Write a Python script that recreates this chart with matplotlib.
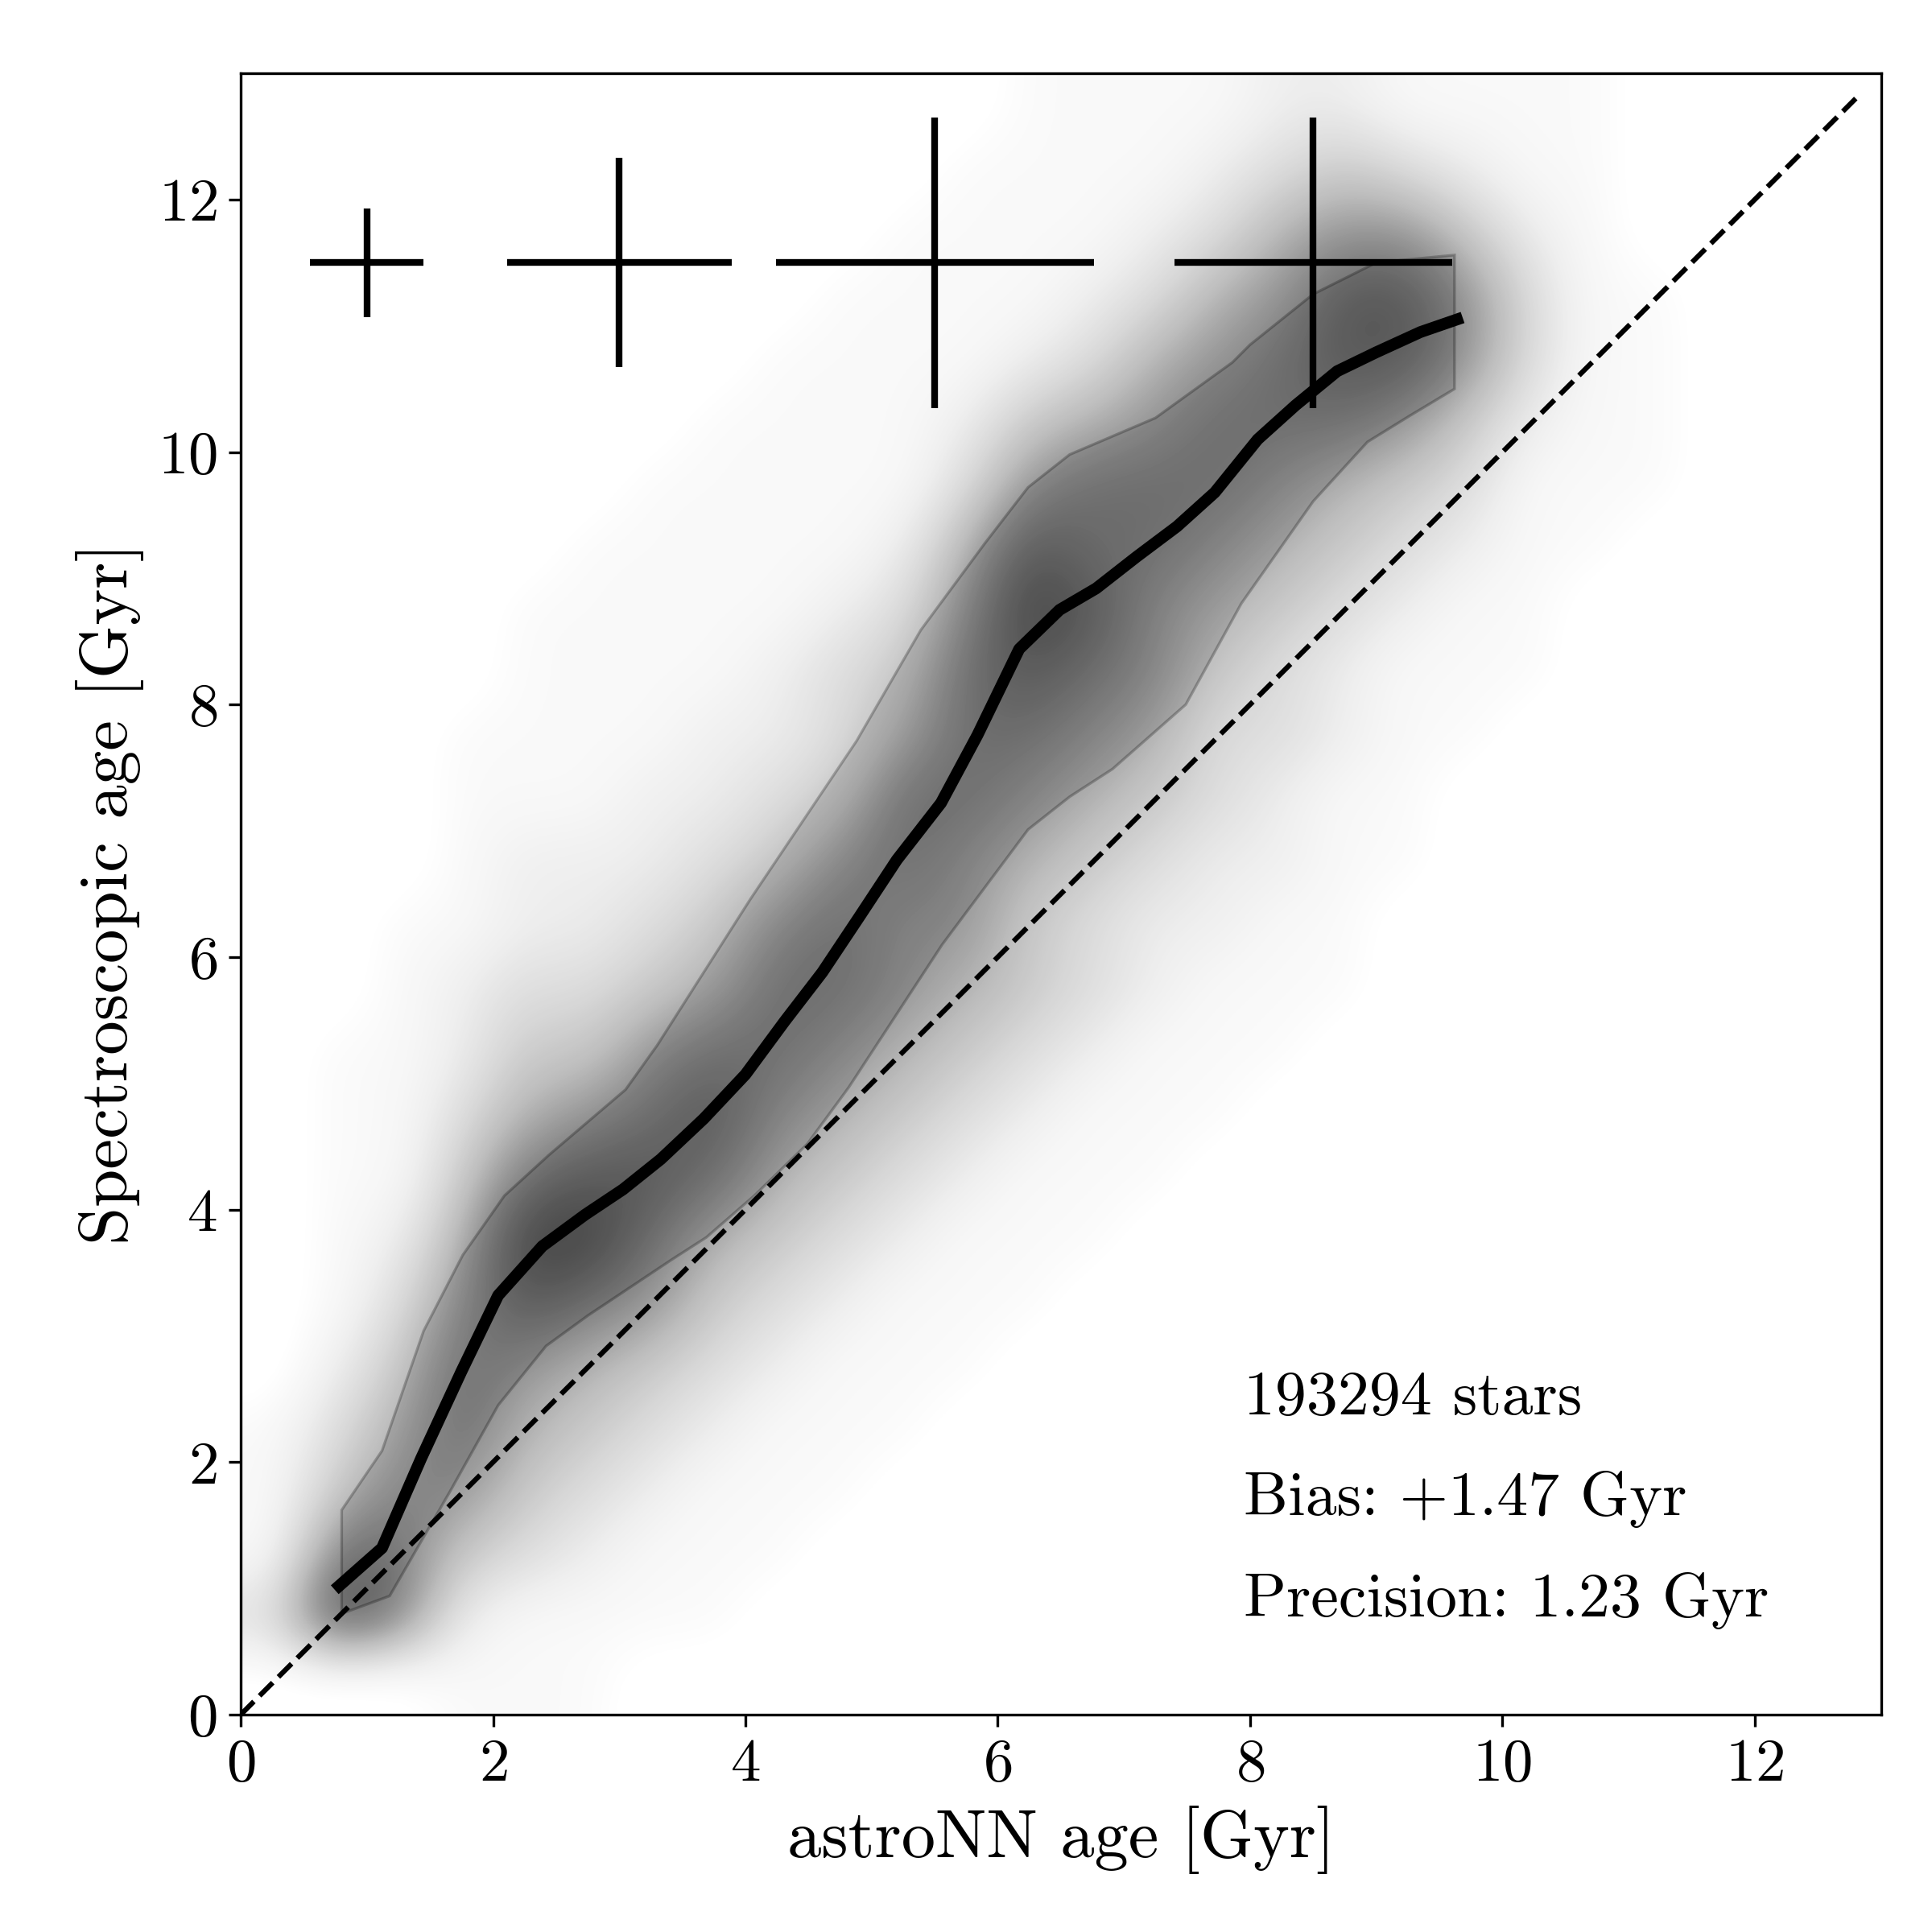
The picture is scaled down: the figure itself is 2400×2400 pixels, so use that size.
#!/usr/bin/env python3

import numpy as np
import matplotlib
matplotlib.use("Agg")
import matplotlib.pyplot as plt

plt.rcParams['font.family'] = 'serif'
plt.rcParams['font.serif'] = ['cmr10']
plt.rcParams['mathtext.fontset'] = 'cm'
plt.rcParams['axes.formatter.use_mathtext'] = True

# running median of spectroscopic age vs astroNN age
median_x = [0.78, 1.12, 1.43, 1.75, 2.04, 2.39, 2.73, 3.03, 3.33, 3.67, 4.00, 4.31, 4.61,
            4.91, 5.20, 5.55, 5.84, 6.17, 6.49, 6.78, 7.10, 7.42, 7.72, 8.06, 8.36, 8.69,
            9.00, 9.35, 9.64]
median_y = [1.02, 1.32, 2.03, 2.72, 3.32, 3.71, 3.96, 4.16, 4.40, 4.72, 5.07, 5.49, 5.88,
            6.33, 6.77, 7.22, 7.76, 8.44, 8.75, 8.92, 9.17, 9.41, 9.68, 10.10, 10.37, 10.64,
            10.79, 10.95, 11.05]

# 16th / 84th percentile band
upper_x = [0.80, 1.12, 1.45, 1.76, 2.09, 2.44, 3.05, 3.30, 4.04, 4.88, 5.39, 5.90, 6.24,
           6.57, 7.25, 7.86, 8.00, 8.50, 9.00, 9.62]
upper_y = [1.62, 2.09, 3.04, 3.64, 4.11, 4.43, 4.95, 5.30, 6.46, 7.71, 8.59, 9.28, 9.72,
           9.98, 10.27, 10.71, 10.85, 11.25, 11.50, 11.56]
lower_x = [0.80, 1.18, 1.66, 2.04, 2.42, 2.75, 3.41, 3.69, 4.07, 4.49, 4.82, 5.56, 6.24,
           6.57, 6.91, 7.49, 7.93, 8.50, 8.93, 9.27, 9.62]
lower_y = [0.80, 0.94, 1.77, 2.45, 2.92, 3.16, 3.60, 3.78, 4.11, 4.52, 4.97, 6.10, 7.01,
           7.27, 7.49, 8.00, 8.80, 9.61, 10.08, 10.29, 10.50]

# typical uncertainties
err_x = [1.0, 3.0, 5.5, 8.5]
err_y = [11.5, 11.5, 11.5, 11.5]
err_xerr = [0.45, 0.89, 1.26, 1.10]
err_yerr = [0.43, 0.83, 1.15, 1.15]

one_to_one = [0.0, 12.8]

n_stars = 193294
bias = 1.47
precision = 1.23

# star density (0-9) in 0.5 Gyr cells, one string per astroNN-age column
# (x = 0.25, 0.75, ...), characters run upward in spectroscopic age (y = 0.25, 0.75, ...)
density_cols = [
    "03111",
    "09743211111",
    "0776543211111",
    "1246776543221111",
    "113456897543221111",
    "1123457986432211111",
    "01123467876432211111",
    "011123457875432211111",
    "0011123456776432211111",
    "00011123456776433211111",
    "000011123456677543211111",
    "0000011123456677765321111",
    "00000011123445678986421111",
    "00000001112334567877532111",
    "00000000111223456677653211",
    "00000000011122334567765321",
    "00000000001112233456776532",
    "00000000000111122345788642",
    "00000000000001111234688631",
    "00000000000000011123466421",
    "00000000000000001111233211",
    "00000000000000000011111111",
    "00000000000000000001111",
    "0", "0", "0",
]

density = np.array([[int(c) for c in col.ljust(26, "0")[:26]] for col in density_cols]).T


def AgePlot():
    fig = plt.figure(figsize=(8, 8), dpi=300)
    ax = fig.add_axes([0.1246, 0.1125, 0.849, 0.8496])

    ax.imshow(density, cmap='Greys', vmin=0.5, vmax=11.5, origin='lower',
              extent=[0, 13, 0, 13], interpolation='bicubic', aspect='auto', zorder=0)

    band_x = np.concatenate([upper_x, lower_x[::-1]])
    band_y = np.concatenate([upper_y, lower_y[::-1]])
    ax.fill(band_x, band_y, facecolor=(0, 0, 0, 0.12), edgecolor=(0, 0, 0, 0.25),
            lw=0.8, zorder=1)

    ax.plot(one_to_one, one_to_one, 'k--', lw=1.5, zorder=2)
    ax.plot(median_x, median_y, 'k-', lw=3.5, zorder=3)

    ax.errorbar(err_x, err_y, xerr=err_xerr, yerr=err_yerr, fmt='none',
                ecolor='k', elinewidth=2, capsize=0, zorder=4)

    ax.text(7.95, 2.38, '%d stars' % n_stars, fontsize=18.7)
    ax.text(7.95, 1.58, 'Bias: +%.2f Gyr' % bias, fontsize=18.7)
    ax.text(7.95, 0.78, 'Precision: %.2f Gyr' % precision, fontsize=18.7)

    ax.set_xlim(0, 13)
    ax.set_ylim(0, 13)
    ax.set_xticks([0, 2, 4, 6, 8, 10, 12])
    ax.set_yticks([0, 2, 4, 6, 8, 10, 12])
    ax.tick_params(labelsize=18)
    ax.set_xlabel('astroNN age [Gyr]', fontsize=20.3)
    ax.set_ylabel('Spectroscopic age [Gyr]', fontsize=20.4)

    fig.savefig('out.png', dpi=300)
    plt.close('all')


if __name__ == "__main__":
    AgePlot()
